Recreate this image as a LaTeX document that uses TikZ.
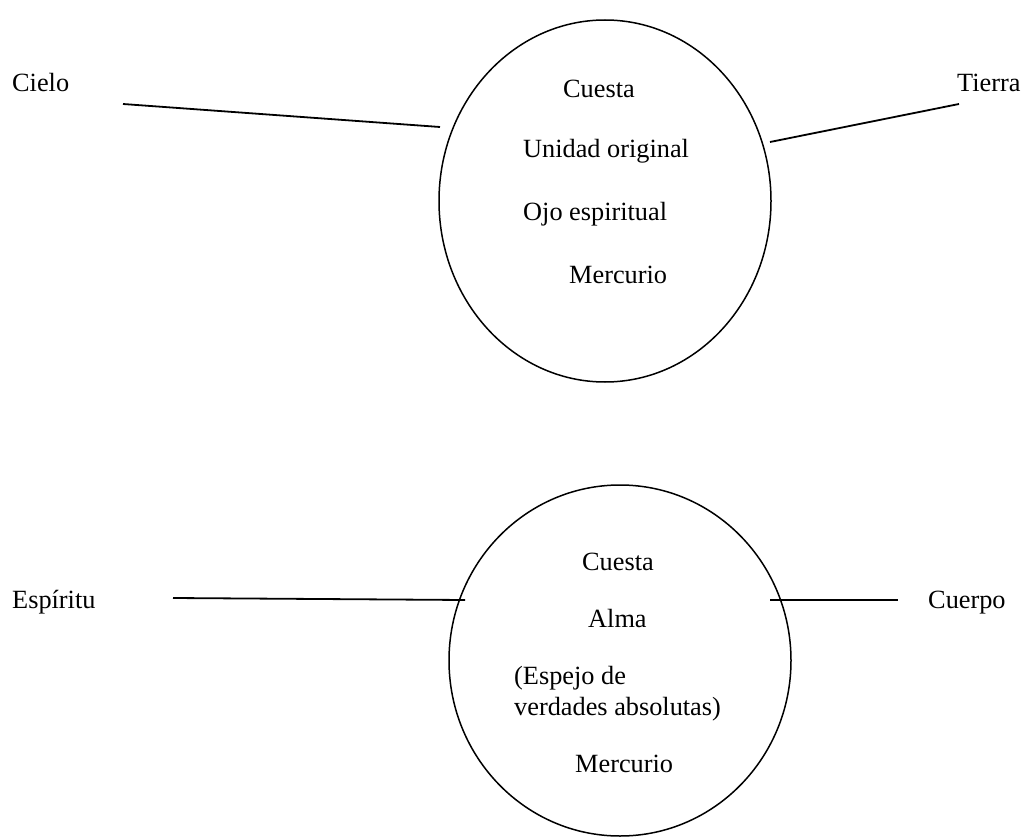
\documentclass[tikz,border=0pt]{standalone}
\usepackage{fontspec}
\setmainfont{Liberation Serif}
\usetikzlibrary{shapes.geometric}
\begin{document}
\begin{tikzpicture}[x=1pt,y=-1pt,
  lbl/.style={anchor=base west,inner sep=0pt,font=\fontsize{26.3}{30}\selectfont},
  oval/.style={draw,ellipse,line width=1.5pt,inner sep=0pt},
  conn/.style={line width=1.8pt}]
\useasboundingbox (0,0) rectangle (1025,837);
% top group
\node[oval,minimum width=332pt,minimum height=362pt] (e1) at (605,201) {};
\node[lbl] (t1) at (563,98) {Cuesta};
\node[lbl] (t2) at (523,158) {Unidad original};
\node[lbl] (t3) at (523,221) {Ojo espiritual};
\node[lbl] (t4) at (569,283) {Mercurio};
\node[lbl] (cielo) at (12,92) {Cielo};
\node[lbl] (tierra) at (957,92) {Tierra};
\coordinate (c1a) at (123,104);
\coordinate (c1b) at (440,127);
\coordinate (c2a) at (770,142);
\coordinate (c2b) at (959,104);
\draw[conn] (c1a) -- (c1b);
\draw[conn] (c2a) -- (c2b);
% bottom group
\node[oval,minimum width=342pt,minimum height=351pt] (e2) at (620,660.5) {};
\node[lbl] (b1) at (582,570) {Cuesta};
\node[lbl] (b2) at (588,627) {Alma};
\node[lbl] (b3) at (514,684) {(Espejo de};
\node[lbl] (b4) at (514,715) {verdades absolutas)};
\node[lbl] (b5) at (575,772) {Mercurio};
\node[lbl] (esp) at (12,608) {Espíritu};
\node[lbl] (cue) at (928,608) {Cuerpo};
\coordinate (d1a) at (173,598);
\coordinate (d1b) at (465,600);
\coordinate (d2a) at (770,600);
\coordinate (d2b) at (898,600);
\draw[conn] (d1a) -- (d1b);
\draw[conn] (d2a) -- (d2b);
\end{tikzpicture}
\end{document}
